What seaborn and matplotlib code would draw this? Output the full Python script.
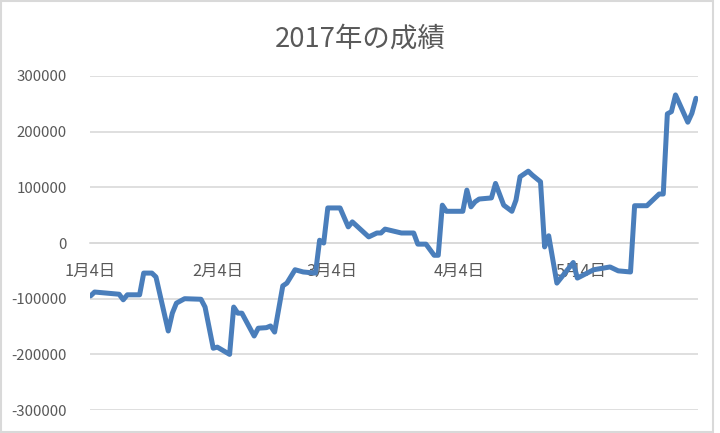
import pandas as pd
import matplotlib
matplotlib.use("Agg")
import matplotlib.pyplot as plt
from matplotlib.patches import Rectangle
import seaborn as sns

# -------------------------------
# datos
# -------------------------------
fechas = [
    "2017-01-04", "2017-01-05", "2017-01-11", "2017-01-12", "2017-01-13",
    "2017-01-16", "2017-01-17", "2017-01-19", "2017-01-20", "2017-01-23",
    "2017-01-24", "2017-01-25", "2017-01-27", "2017-01-31", "2017-02-01",
    "2017-02-03", "2017-02-04", "2017-02-07", "2017-02-08", "2017-02-09",
    "2017-02-10", "2017-02-13", "2017-02-14", "2017-02-16", "2017-02-17",
    "2017-02-18", "2017-02-20", "2017-02-21", "2017-02-23", "2017-02-25",
    "2017-02-28", "2017-03-01", "2017-03-02", "2017-03-03", "2017-03-06",
    "2017-03-08", "2017-03-09", "2017-03-13", "2017-03-15", "2017-03-16",
    "2017-03-17", "2017-03-21", "2017-03-24", "2017-03-25", "2017-03-27",
    "2017-03-29", "2017-03-30", "2017-03-31", "2017-04-01", "2017-04-05",
    "2017-04-06", "2017-04-07", "2017-04-08", "2017-04-09", "2017-04-12",
    "2017-04-13", "2017-04-15", "2017-04-17", "2017-04-18", "2017-04-19",
    "2017-04-21", "2017-04-22", "2017-04-24", "2017-04-25", "2017-04-26",
    "2017-04-28", "2017-05-02", "2017-05-03", "2017-05-07", "2017-05-11",
    "2017-05-13", "2017-05-16", "2017-05-17", "2017-05-20", "2017-05-23",
    "2017-05-24", "2017-05-25", "2017-05-26", "2017-05-27", "2017-05-30",
    "2017-05-31", "2017-06-01",
]
seiseki = [
    -95000, -88000, -92000, -102000, -93000,
    -93000, -54000, -54000, -61000, -158000,
    -126000, -108000, -100000, -101000, -115000,
    -189000, -187000, -200000, -115000, -126000,
    -126000, -167000, -153000, -152000, -149000,
    -160000, -77000, -72000, -48000, -52000,
    -54000, 5000, 0, 63000, 63000,
    29000, 38000, 11000, 18000, 18000,
    25000, 18000, 18000, -2000, -2000,
    -22000, -22000, 68000, 57000, 57000,
    95000, 65000, 74000, 79000, 81000,
    107000, 68000, 57000, 77000, 119000,
    129000, 122000, 110000, -7000, 13000,
    -72000, -35000, -63000, -48000, -43000,
    -50000, -52000, 67000, 67000, 88000,
    88000, 232000, 236000, 266000, 217000,
    233000, 260000,
]
tick_fechas = ["2017-01-04", "2017-02-04", "2017-03-04", "2017-04-04", "2017-05-04"]
tick_labels = ["1月4日", "2月4日", "3月4日", "4月4日", "5月4日"]
y_ticks = [-300000, -200000, -100000, 0, 100000, 200000, 300000]

df = pd.DataFrame({"fecha": pd.to_datetime(fechas), "seiseki": seiseki})

# -------------------------------
# estilo
# -------------------------------
sns.set_style("white")
plt.rcParams["font.family"] = ["Noto Sans CJK JP", "DejaVu Sans"]
gris_texto = "#595959"
gris_linea = "#D9D9D9"

fig = plt.figure(figsize=(7.2, 4.33), dpi=100)
ax = fig.add_axes([0.125, 0.053, 0.844, 0.7715])

sns.lineplot(data=df, x="fecha", y="seiseki", ax=ax, color="#4A7EBB",
             linewidth=3.6, solid_joinstyle="round", solid_capstyle="round")

ax.set_ylim(-300000, 300000)
ax.set_yticks(y_ticks)
ax.set_yticklabels([str(v) for v in y_ticks])
ax.set_xlim(pd.Timestamp("2017-01-04") - pd.Timedelta(hours=3),
            pd.Timestamp("2017-06-01") + pd.Timedelta(hours=10))
ax.set_xticks(pd.to_datetime(tick_fechas))
ax.set_xticklabels(tick_labels)

ax.grid(axis="y", color=gris_linea, linewidth=1.2)
ax.grid(axis="x", visible=False)
ax.set_axisbelow(True)
for lado in ["top", "right", "left"]:
    ax.spines[lado].set_visible(False)
# eje x en el cero, como en Excel
ax.spines["bottom"].set_position(("data", 0))
ax.spines["bottom"].set_color(gris_linea)
ax.spines["bottom"].set_linewidth(1.2)
ax.spines["bottom"].set_zorder(0)

ax.tick_params(axis="x", length=0, pad=14, labelsize=11.8, colors=gris_texto)
ax.tick_params(axis="y", length=0, pad=17, labelsize=10.8, colors=gris_texto)
ax.set_xlabel("")
ax.set_ylabel("")

fig.text(0.5, 0.91, "2017年の成績", ha="center", va="center",
         fontsize=19.8, color=gris_texto)

# marco del grafico
fig.patches.append(Rectangle((0.002, 0.003), 0.988, 0.994, transform=fig.transFigure,
                             fill=False, edgecolor=gris_linea, linewidth=1.5))

fig.savefig("out.png", dpi=100)
